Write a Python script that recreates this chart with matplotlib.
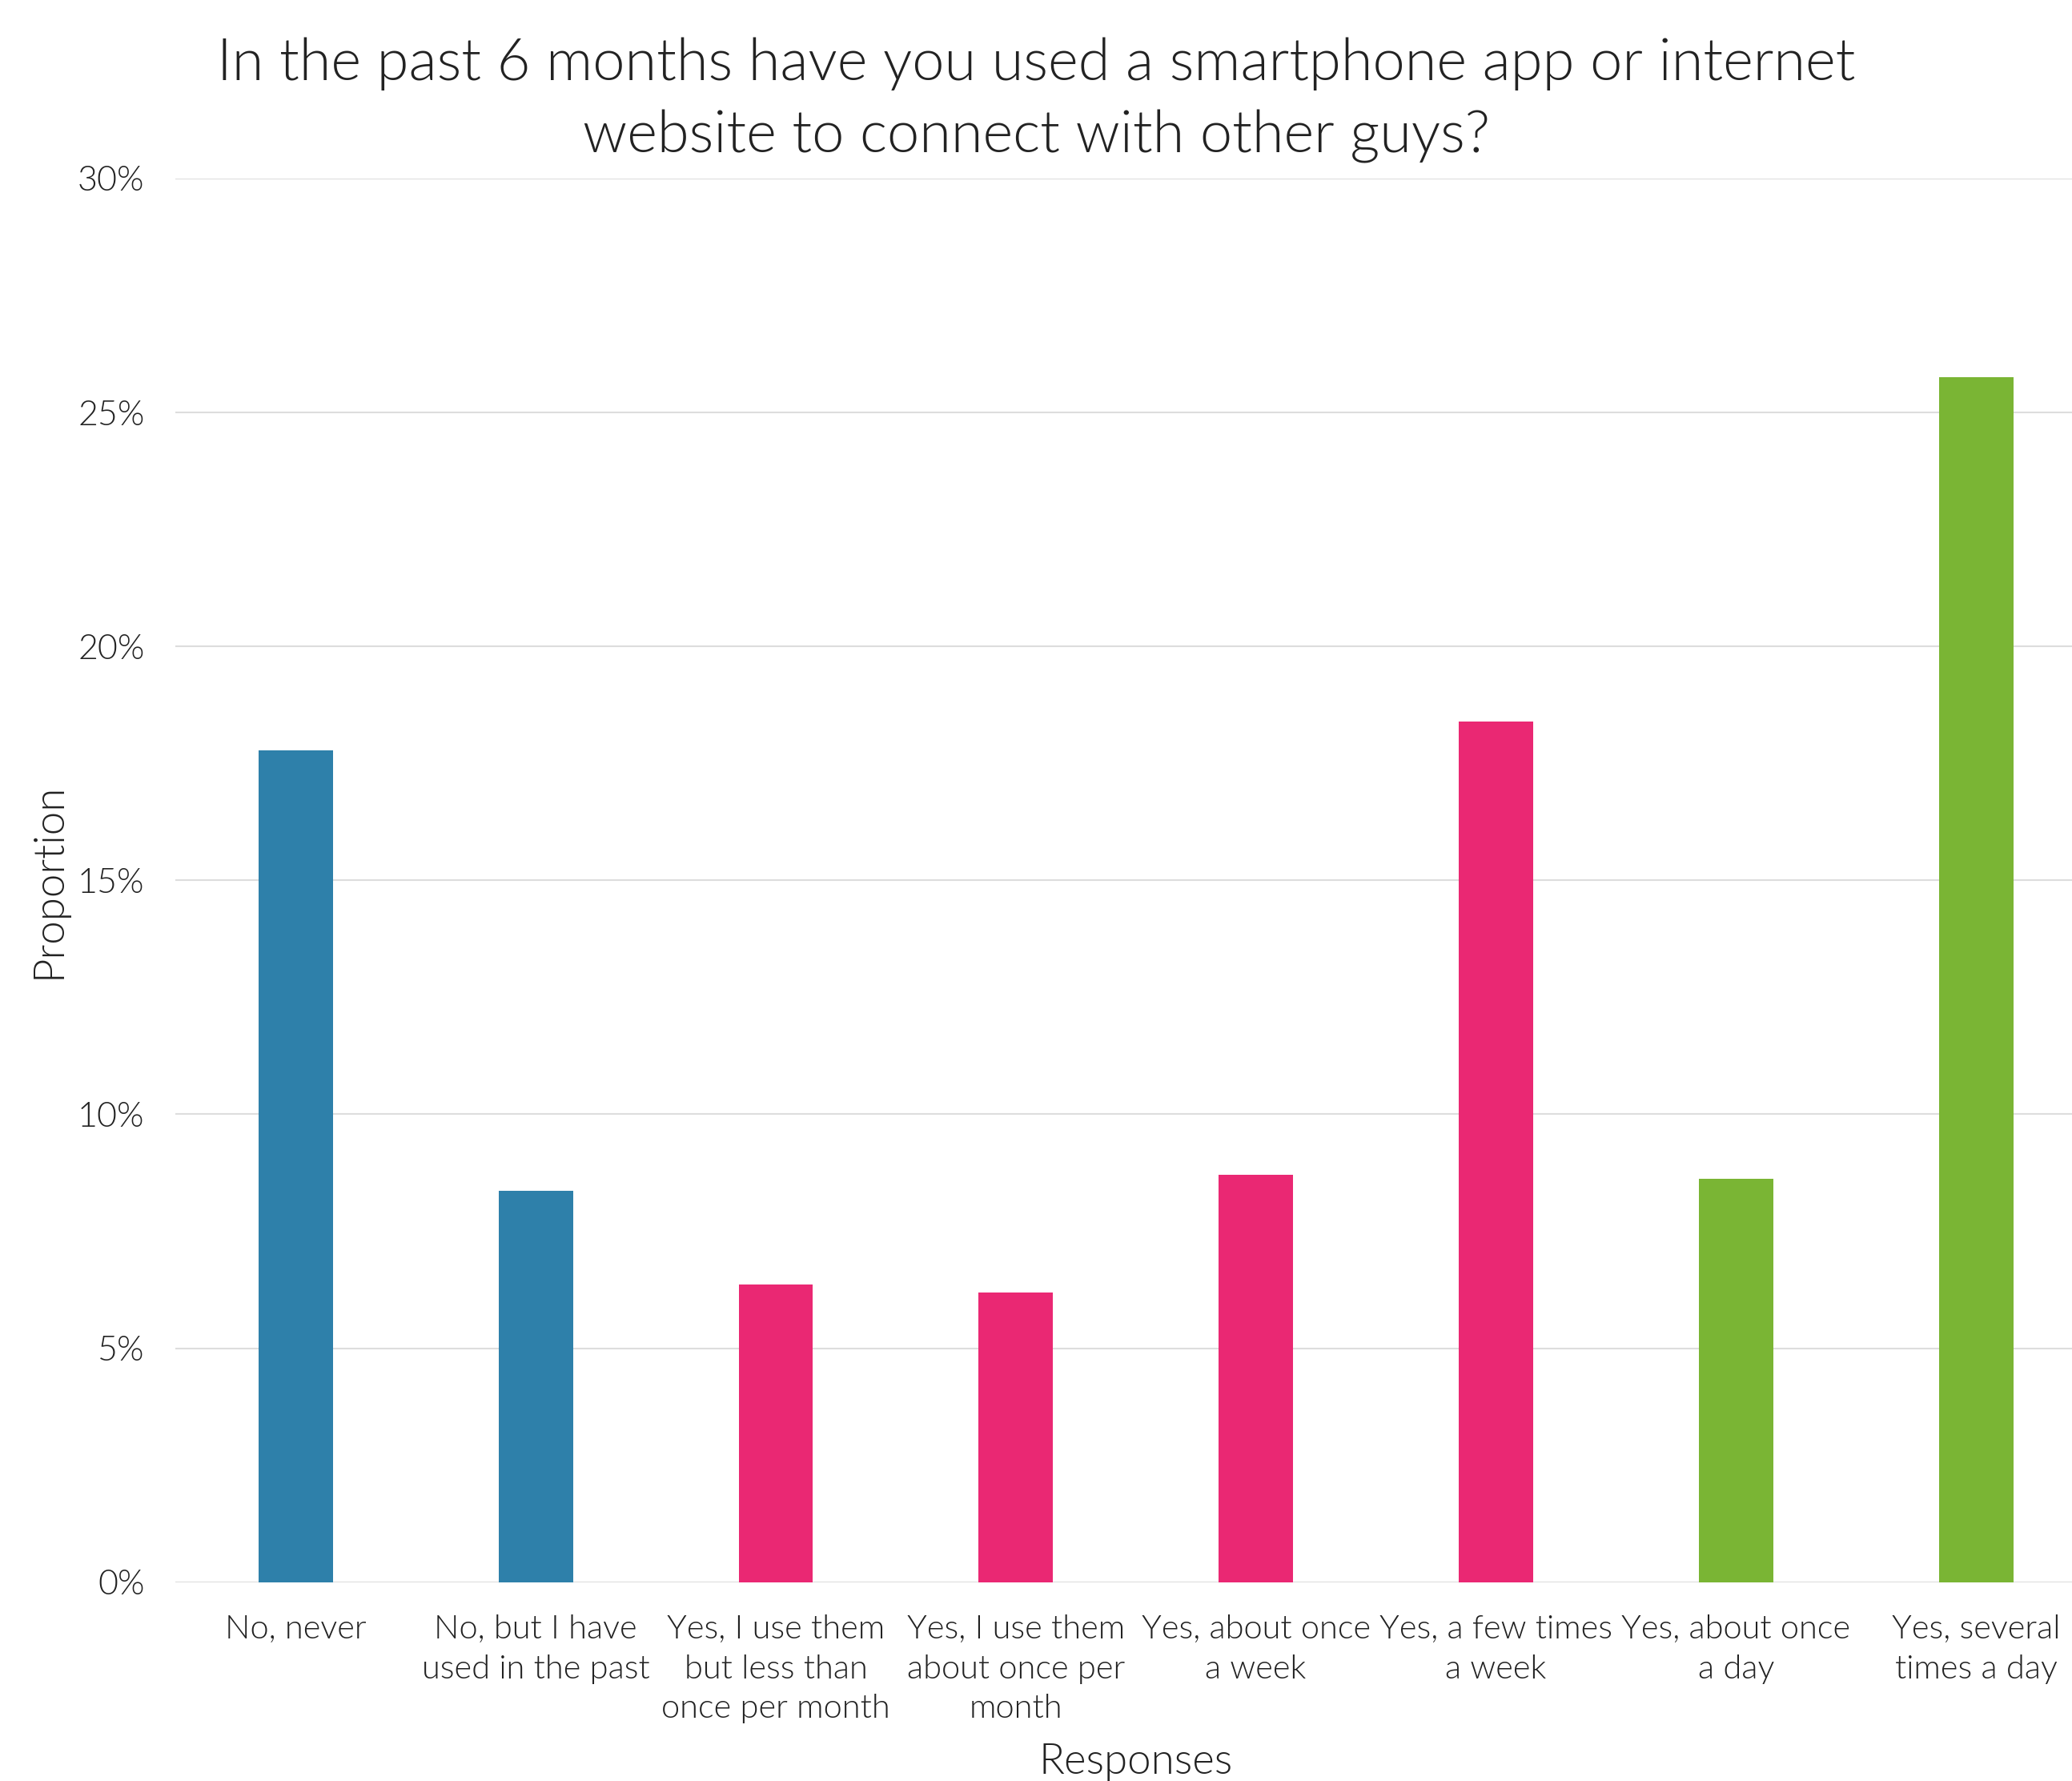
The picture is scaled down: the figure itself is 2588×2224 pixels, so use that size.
import matplotlib.pyplot as plt
import numpy as np

# ------- data -------------------------------------------------
responses = ['No, never', 'No, but I have\nused in the past',
             'Yes, I use them\nbut less than\nonce per month',
             'Yes, I use them\nabout once per\nmonth',
             'Yes, about once\na week', 'Yes, a few times\na week',
             'Yes, about once\na day', 'Yes, several\ntimes a day']
proportion = [17.77, 8.37, 6.36, 6.19, 8.70, 18.40, 8.62, 25.76]   # percent
group = ['no', 'no', 'yes', 'yes', 'yes', 'yes', 'daily', 'daily']
yticks = [0, 5, 10, 15, 20, 25, 30]

farben = {'no': '#2E80AA', 'yes': '#EA2873', 'daily': '#7AB534'}

# Lato Light (weight 300); 'light' would pick Lato Thin
plt.rcParams['font.family'] = ['Lato', 'DejaVu Sans']
plt.rcParams['font.weight'] = 300
txt = '#222222'

fig = plt.figure(figsize=(25.88, 22.24), dpi=100)
ax = fig.add_axes([0.0848, 0.1116, 0.9268, 0.7882])

x = np.arange(len(responses))
ax.bar(x, proportion, width=0.31, color=[farben[g] for g in group], zorder=3)

ax.set_xlim(-0.5, 7.5)
ax.set_ylim(0, 30)
ax.set_yticks(yticks)
ax.set_yticklabels(['{}%'.format(v) for v in yticks], fontsize=31, color=txt,
                   fontweight=300)
ax.set_xticks(x)
ax.set_xticklabels(responses, fontsize=30, color=txt, fontweight=300,
                   linespacing=1.42)
ax.tick_params(axis='both', length=0)
ax.tick_params(axis='y', pad=28)
ax.tick_params(axis='x', pad=29)

ax.grid(axis='y', color='#DDDDDD', linewidth=1.5, zorder=0)
for s in ax.spines.values():
    s.set_visible(False)

ax.set_xlabel('Responses', fontsize=38, color=txt, fontweight=300, labelpad=18)
ax.set_ylabel('Proportion', fontsize=38, color=txt, fontweight=300, labelpad=9)

fig.suptitle('In the past 6 months have you used a smartphone app or internet\n'
             'website to connect with other guys?', fontsize=52, color=txt,
             fontweight=300, y=0.979, va='top', linespacing=1.45)

plt.savefig('out.png', dpi=100)
